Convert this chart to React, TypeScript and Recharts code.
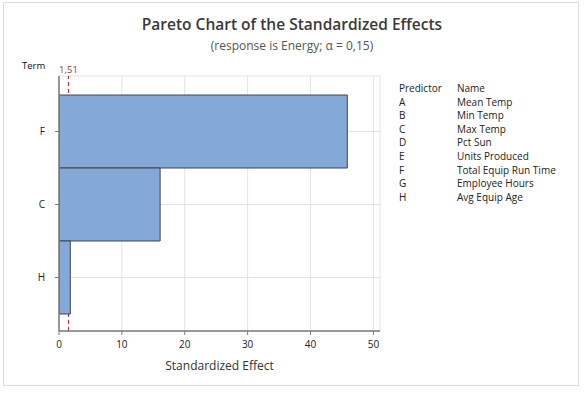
import React from "react";
import {
  BarChart,
  Bar,
  XAxis,
  YAxis,
  CartesianGrid,
  ReferenceLine,
} from "recharts";

const terms = ["F", "C", "H"];
const effects = [45.85, 16.08, 1.8];
const xTicks = [0, 10, 20, 30, 40, 50];
const criticalValue = 1.51;
const criticalLabel = "1,51";
const predictors = ["A", "B", "C", "D", "E", "F", "G", "H"];
const predictorNames = [
  "Mean Temp",
  "Min Temp",
  "Max Temp",
  "Pct Sun",
  "Units Produced",
  "Total Equip Run Time",
  "Employee Hours",
  "Avg Equip Age",
];

const data = terms.map((t, i) => ({ term: t, effect: effects[i] }));

const FONT = '"Segoe UI", "Open Sans", "Noto Sans", sans-serif';

export default function App() {
  return (
    <div
      style={{
        position: "absolute",
        left: 0,
        top: 0,
        width: 584,
        height: 393,
        background: "#fff",
        fontFamily: FONT,
      }}
    >
      <div
        style={{
          position: "absolute",
          left: 3,
          top: 2,
          width: 574,
          height: 382,
          border: "1px solid #dcdcdc",
        }}
      />
      <div
        style={{
          position: "absolute",
          left: 0,
          width: 584,
          top: 13,
          textAlign: "center",
          fontSize: 15.5,
          fontWeight: 600,
          color: "#3a3a3a",
        }}
      >
        Pareto Chart of the Standardized Effects
      </div>
      <div
        style={{
          position: "absolute",
          left: 0,
          width: 584,
          top: 37,
          textAlign: "center",
          fontSize: 12,
          color: "#555",
        }}
      >
        (response is Energy; α = 0,15)
      </div>
      <div
        style={{
          position: "absolute",
          left: 22,
          top: 59,
          fontSize: 9.5,
          color: "#111",
        }}
      >
        Term
      </div>
      <div
        style={{
          position: "absolute",
          left: 399,
          top: 82,
          fontSize: 10,
          color: "#222",
          lineHeight: "13.6px",
        }}
      >
        <div style={{ display: "flex" }}>
          <div style={{ width: 58 }}>Predictor</div>
          <div>Name</div>
        </div>
        {predictors.map((p, i) => (
          <div key={p} style={{ display: "flex" }}>
            <div style={{ width: 58 }}>{p}</div>
            <div>{predictorNames[i]}</div>
          </div>
        ))}
      </div>
      <div style={{ position: "absolute", left: 0, top: 0 }}>
        <BarChart
          width={584}
          height={393}
          data={data}
          layout="vertical"
          margin={{ top: 76, right: 204, bottom: 32, left: 0 }}
          barCategoryGap={0}
        >
          <CartesianGrid stroke="#e3e3e3" strokeWidth={1} />
          <XAxis
            type="number"
            dataKey="effect"
            domain={[0, 51.05]}
            ticks={xTicks}
            allowDataOverflow
            height={30}
            axisLine={{ stroke: "#7a7a7a", strokeWidth: 1.5 }}
            tickLine={{ stroke: "#7a7a7a" }}
            tickSize={4}
            tick={{ fontSize: 10, fill: "#222", fontFamily: FONT, dy: 4 }}
            label={{
              value: "Standardized Effect",
              position: "insideBottom",
              offset: -9,
              fontSize: 12,
              fill: "#333",
              fontFamily: FONT,
            }}
          />
          <XAxis
            xAxisId="top"
            orientation="top"
            type="number"
            domain={[0, 51.05]}
            height={0}
            tick={false}
            tickLine={false}
            axisLine={{ stroke: "#7a7a7a", strokeWidth: 1.5 }}
          />
          <YAxis
            type="category"
            dataKey="term"
            width={59}
            padding={{ top: 19, bottom: 17 }}
            axisLine={{ stroke: "#7a7a7a", strokeWidth: 1.5 }}
            tickLine={{ stroke: "#7a7a7a" }}
            tickSize={4}
            tick={{ fontSize: 10, fill: "#222", fontFamily: FONT, dx: -8 }}
          />
          <YAxis
            yAxisId="right"
            orientation="right"
            type="category"
            dataKey="term"
            width={0}
            tick={false}
            tickLine={false}
            axisLine={{ stroke: "#7a7a7a", strokeWidth: 1.5 }}
          />
          <ReferenceLine
            x={criticalValue}
            stroke="#d0202e"
            strokeDasharray="4 3"
            strokeWidth={1}
            zIndex={150}
            label={{
              value: criticalLabel,
              position: "top",
              fill: "#a83240",
              fontSize: 9.5,
              fontFamily: FONT,
              offset: 3,
            }}
          />
          <Bar
            dataKey="effect"
            fill="#84a8d8"
            stroke="#444"
            strokeWidth={1}
            isAnimationActive={false}
          />
        </BarChart>
      </div>
    </div>
  );
}
